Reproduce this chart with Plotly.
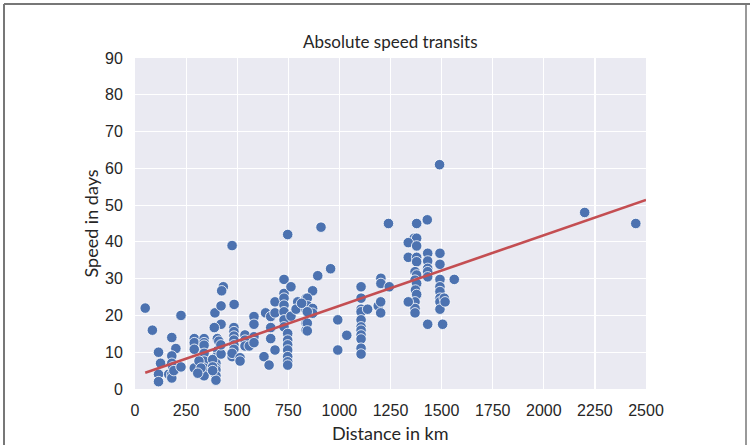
import plotly.graph_objects as go

# ---- data ----
distance_km = [
    50, 85, 115, 125, 115, 115, 180, 200, 180, 180, 165, 180, 180, 185, 190, 225, 225,
    290, 290, 290, 290, 338, 338, 338, 338, 338, 338, 338, 313, 323, 307,
    432, 424, 391, 421, 421, 388, 403, 415, 415, 405, 396, 396, 396, 396, 396, 396,
    380, 380, 380, 421, 410, 420,
    475, 485, 484, 484, 484, 484, 484, 484, 475, 475, 514, 514, 538, 538, 538, 559,
    582, 582, 582, 582,
    631, 656, 639, 664, 664, 664, 685, 685, 685, 729, 729, 729, 729, 729, 729, 729,
    763, 747, 747, 747, 747, 747, 747, 747, 747, 763, 796, 788, 837, 837, 837, 837, 837,
    910, 894, 957, 869, 843, 845, 869, 869, 843, 843, 843, 815, 992, 992, 1036,
    1106, 1106, 1106, 1106, 1106, 1106, 1106, 1106, 1106, 1106, 1106, 1138, 1190, 1202,
    1202, 1203, 1203, 1244, 1240,
    1366, 1378, 1337, 1378, 1337, 1378, 1378, 1370, 1378, 1370, 1378, 1372, 1378, 1370,
    1370, 1370, 1337, 1378, 1430, 1432, 1432, 1432, 1432, 1432, 1432, 1492, 1492, 1492,
    1492, 1492, 1492, 1492, 1492, 1513, 1517, 1505, 1562, 1490,
    2200, 2450,
]
speed_days = [
    22, 16, 10, 7, 4, 2, 14, 11, 9, 7, 4, 4, 3, 6, 5, 6, 20,
    13.7, 12.6, 10.8, 5.7, 13.7, 12.6, 11.9, 9.7, 7.6, 5.7, 3.6, 7.6, 5.7, 4.3,
    27.8, 26.7, 20.7, 22.6, 17.6, 16.7, 13.7, 12.5, 11.5, 10.5, 8.6, 7.0, 5.8, 5.2, 3.6, 2.4,
    8, 6, 5, 9.5, 13, 12,
    39, 23, 16.7, 15.6, 14.4, 13.3, 12.0, 10.8, 8.8, 9.7, 8.5, 7.6, 14.7, 13.3, 11.7, 11.7,
    19.7, 17.6, 14.2, 12.6,
    8.8, 6.5, 20.7, 19.7, 16.7, 13.7, 23.7, 20.7, 10.6, 29.8, 26.0, 24.7, 22.8, 21.0, 18.8, 16.9,
    27.8, 42, 15.1, 13.3, 12.0, 10.6, 8.8, 7.4, 6.5, 19.8, 23.7, 21.7, 22.8, 24.7, 21.5, 17.9, 16.0,
    44, 30.8, 32.7, 26.7, 24.7, 22.6, 21.9, 20.6, 21.0, 17.9, 15.8, 23.3, 18.8, 10.6, 14.6,
    27.8, 24.7, 21.7, 21.0, 18.8, 16.9, 16.0, 14.7, 13.6, 11.1, 9.5, 21.7, 22.6, 23.7,
    20.7, 30.1, 28.7, 27.8, 45,
    41, 41, 39.8, 38.9, 35.8, 35.8, 34.6, 31.9, 31.0, 29.6, 28.7, 26.9, 25.7, 23.7,
    21.9, 20.7, 23.7, 45, 46, 36.9, 34.8, 32.8, 31.9, 30.5, 17.6, 36.9, 33.9, 29.8,
    27.8, 26.5, 24.7, 23.7, 21.7, 24.7, 23.7, 17.6, 29.8, 61,
    48, 45,
]
fit_x = [50, 2500]
fit_y = [4.4, 51.4]

x_ticks = [0, 250, 500, 750, 1000, 1250, 1500, 1750, 2000, 2250, 2500]
y_ticks = [0, 10, 20, 30, 40, 50, 60, 70, 80, 90]

title_text = "Absolute speed transits"
x_title = "Distance in km"
y_title = "Speed in days"

# ---- figure ----
fig = go.Figure()
fig.add_trace(go.Scatter(
    x=distance_km, y=speed_days, mode="markers",
    marker=dict(size=10.5, color="#4c72b0", line=dict(color="white", width=0.8)),
    showlegend=False, hoverinfo="skip",
))
fig.add_trace(go.Scatter(
    x=fit_x, y=fit_y, mode="lines",
    line=dict(color="#c44e52", width=2.6),
    showlegend=False, hoverinfo="skip",
))

L, R, T, B = 135, 104, 58, 56
W, H = 750, 445
pw, ph = W - L - R, H - T - B

tick_font = dict(family="Liberation Sans, Arial, sans-serif", size=16, color="#262626")
title_font = dict(family="Lato, sans-serif", size=18, color="#262626")

fig.update_layout(
    width=W, height=H,
    margin=dict(l=L, r=R, t=T, b=B, autoexpand=False),
    paper_bgcolor="white",
    plot_bgcolor="#eaeaf2",
    xaxis=dict(
        range=[0, 2500], tickvals=x_ticks, ticktext=[str(v) for v in x_ticks],
        showgrid=True, gridcolor="white", gridwidth=1.2, zeroline=False,
        showline=False, ticks="outside", ticklen=7, tickcolor="rgba(0,0,0,0)",
        tickfont=tick_font, fixedrange=True,
    ),
    yaxis=dict(
        range=[0, 90], tickvals=y_ticks, ticktext=[str(v) for v in y_ticks],
        showgrid=True, gridcolor="white", gridwidth=1.2, zeroline=False,
        showline=False, ticks="outside", ticklen=8, tickcolor="rgba(0,0,0,0)",
        tickfont=tick_font, fixedrange=True,
    ),
    font=tick_font,
)

def px_to_paper_x(px):
    return (px - L) / pw

def px_to_paper_y(py):
    return (H - B - py) / ph

fig.add_annotation(text=title_text, xref="paper", yref="paper",
                   x=0.5, y=px_to_paper_y(42), xanchor="center", yanchor="middle",
                   showarrow=False, font=dict(family="Lato, sans-serif", size=17, color="#262626"))
fig.add_annotation(text=x_title, xref="paper", yref="paper",
                   x=0.5, y=px_to_paper_y(433), xanchor="center", yanchor="middle",
                   showarrow=False, font=title_font)
fig.add_annotation(text=y_title, xref="paper", yref="paper",
                   x=px_to_paper_x(90), y=0.5, xanchor="center", yanchor="middle",
                   textangle=-90, showarrow=False, font=title_font)

# outer frame of the picture
frame_col = "#777777"
fig.add_shape(type="line", xref="paper", yref="paper",
              x0=px_to_paper_x(4), x1=px_to_paper_x(760), y0=px_to_paper_y(4), y1=px_to_paper_y(4),
              line=dict(color=frame_col, width=2))
fig.add_shape(type="line", xref="paper", yref="paper",
              x0=px_to_paper_x(4), x1=px_to_paper_x(4), y0=px_to_paper_y(4), y1=px_to_paper_y(460),
              line=dict(color=frame_col, width=2))
fig.add_shape(type="line", xref="paper", yref="paper",
              x0=px_to_paper_x(746), x1=px_to_paper_x(746), y0=px_to_paper_y(4), y1=px_to_paper_y(460),
              line=dict(color=frame_col, width=1.5))

fig.write_html(
    "out.html",
    config={"displayModeBar": False, "staticPlot": True},
    post_script="document.body.style.margin='0';document.body.style.overflow='hidden';",
)
